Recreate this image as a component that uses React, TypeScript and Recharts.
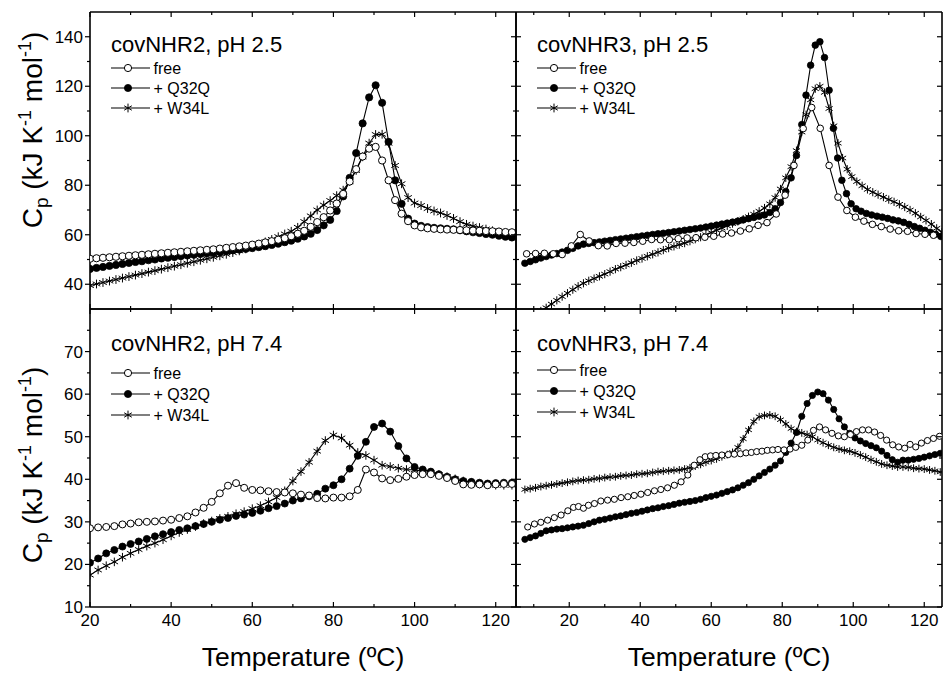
import React from 'react';
import { LineChart, Line, XAxis, YAxis, Legend } from 'recharts';

const W = 943;
const H = 675;
const FONT = '"Liberation Sans", Arial, Helvetica, sans-serif';

type Pt = [number, number];

// tick values
const leftTempTicks = [20, 30, 40, 50, 60, 70, 80, 90, 100, 110, 120];
const rightTempTicks = [10, 20, 30, 40, 50, 60, 70, 80, 90, 100, 110, 120];
const acidCpTicks = [40, 50, 60, 70, 80, 90, 100, 110, 120, 130, 140];
const neutralCpTicks = [10, 15, 20, 25, 30, 35, 40, 45, 50, 55, 60, 65, 70, 75];

const seriesNames = ['free', '+ Q32Q', '+ W34L'];

// covNHR2, pH 2.5  [temperature ºC, Cp]
const nhr2AcidFree: Pt[] = [
  [20, 50.3], [21.6, 50.5], [23.2, 50.7], [24.8, 50.9], [26.4, 51.1], [28, 51.3], [29.6, 51.5], [31.2, 51.7],
  [32.8, 51.9], [34.4, 52.1], [36, 52.3], [37.6, 52.5], [39.2, 52.7], [40.8, 52.9], [42.4, 53.1], [44, 53.3],
  [45.6, 53.5], [47.2, 53.7], [48.8, 53.9], [50.4, 54.1], [52, 54.4], [53.6, 54.7], [55.2, 55.0], [56.8, 55.3],
  [58.4, 55.6], [60, 56.0], [61.6, 56.4], [63.2, 56.9], [64.8, 57.4], [66.4, 58.0], [68, 58.6], [69.6, 59.4],
  [71.2, 60.4], [72.8, 61.6], [74.4, 63.2], [76, 65.1], [77.6, 67.1], [79.2, 69.8], [80.8, 72.6], [82.4, 76.5],
  [84, 81.5], [85.6, 86.5], [87.2, 91.6], [88.8, 94.8], [90.4, 95.5], [92, 90.0], [93.6, 82.0], [95.2, 74.0],
  [96.8, 68.5], [98.4, 65.5], [100, 63.8], [101.6, 63.0], [103.2, 62.6], [104.8, 62.4], [106.4, 62.2], [108, 62.1],
  [109.6, 62.0], [111.2, 61.9], [112.8, 61.8], [114.4, 61.7], [116, 61.6], [117.6, 61.5], [119.2, 61.4], [120.8, 61.3],
  [122.4, 61.1], [124, 61.0],
];
const nhr2AcidQ32Q: Pt[] = [
  [20, 46.2], [21.6, 46.6], [23.2, 47.0], [24.8, 47.4], [26.4, 47.8], [28, 48.2], [29.6, 48.6], [31.2, 49.0],
  [32.8, 49.3], [34.4, 49.7], [36, 50.0], [37.6, 50.4], [39.2, 50.7], [40.8, 51.0], [42.4, 51.3], [44, 51.6],
  [45.6, 51.9], [47.2, 52.2], [48.8, 52.5], [50.4, 52.8], [52, 53.1], [53.6, 53.4], [55.2, 53.7], [56.8, 54.0],
  [58.4, 54.3], [60, 54.6], [61.6, 55.0], [63.2, 55.4], [64.8, 55.9], [66.4, 56.4], [68, 57.0], [69.6, 57.6],
  [71.2, 58.4], [72.8, 59.3], [74.4, 60.4], [76, 61.9], [77.6, 63.8], [79.2, 66.0], [80.8, 69.6], [82.4, 75.5],
  [84, 83.0], [85.6, 93.0], [87.2, 105.0], [88.8, 115.5], [90.4, 120.4], [92, 113.3], [93.6, 97.5], [95.2, 82.0],
  [96.8, 72.5], [98.4, 66.5], [100, 64.5], [101.6, 63.6], [103.2, 63.1], [104.8, 62.8], [106.4, 62.6], [108, 62.4],
  [109.6, 62.2], [111.2, 61.8], [112.8, 61.4], [114.4, 61.0], [116, 60.7], [117.6, 60.3], [119.2, 60.0], [120.8, 59.6],
  [122.4, 59.2], [124, 58.9],
];
const nhr2AcidW34L: Pt[] = [
  [20, 39.5], [21.6, 40.1], [23.2, 40.7], [24.8, 41.3], [26.4, 41.9], [28, 42.5], [29.6, 43.1], [31.2, 43.7],
  [32.8, 44.3], [34.4, 44.9], [36, 45.5], [37.6, 46.1], [39.2, 46.7], [40.8, 47.3], [42.4, 47.9], [44, 48.5],
  [45.6, 49.1], [47.2, 49.7], [48.8, 50.3], [50.4, 50.9], [52, 51.5], [53.6, 52.1], [55.2, 52.8], [56.8, 53.5],
  [58.4, 54.3], [60, 55.2], [61.6, 56.1], [63.2, 57.1], [64.8, 58.1], [66.4, 59.2], [68, 60.3], [69.6, 61.4],
  [71.2, 63.0], [72.8, 65.3], [74.4, 67.6], [76, 70.0], [77.6, 72.0], [79.2, 73.8], [80.8, 75.8], [82.4, 78.0],
  [84, 81.5], [85.6, 86.0], [87.2, 91.5], [88.8, 97.0], [90.4, 100.5], [92, 100.6], [93.6, 97.0], [95.2, 88.0],
  [96.8, 80.6], [98.4, 75.0], [100, 72.8], [101.6, 71.8], [103.2, 70.6], [104.8, 69.6], [106.4, 68.8], [108, 67.8],
  [109.6, 66.6], [111.2, 65.3], [112.8, 64.2], [114.4, 63.5], [116, 62.9], [117.6, 62.3], [119.2, 61.6], [120.8, 60.8],
  [122.4, 60.0], [124, 59.2],
];

// covNHR3, pH 2.5
const nhr3AcidFree: Pt[] = [
  [8, 52.3], [10.5, 52.4], [13, 52.5], [15.5, 52.3], [18, 52.0], [20.6, 55.5], [23.1, 60.1], [25.6, 57.5],
  [28.2, 55.6], [30.7, 55.5], [33.2, 56.5], [35.7, 56.6], [38.2, 56.9], [40.7, 57.4], [43.2, 58.1], [45.7, 58.0],
  [48.2, 58.0], [50.7, 58.4], [53.2, 58.7], [55.7, 58.8], [58.2, 59.0], [60.7, 59.4], [63.2, 60.3], [65.7, 60.7],
  [68.2, 61.5], [70.7, 62.4], [73.2, 63.8], [75.7, 64.9], [78.3, 68.4], [80.8, 76.0], [83.3, 88.0], [85.9, 102.9],
  [88.3, 111.4], [90.7, 103.0], [93.2, 88.0], [95.7, 75.2], [98.2, 69.8], [100.6, 67.1], [103, 65.5], [105.4, 64.2],
  [107.9, 63.3], [110.4, 62.3], [112.8, 61.6], [115.3, 61.4], [117.7, 60.5], [120.2, 60.2], [122.6, 59.8],
];
const nhr3AcidQ32Q: Pt[] = [
  [7.5, 48.5], [9, 49.2], [10.5, 49.9], [12, 50.6], [13.5, 51.2], [15, 51.8], [16.5, 52.4], [18, 53.0],
  [19.5, 53.7], [21, 54.5], [22.5, 55.5], [24, 56.2], [25.5, 56.5], [27, 56.8], [28.5, 57.1], [30, 57.4],
  [31.5, 57.7], [33, 58.0], [34.5, 58.3], [36, 58.6], [37.5, 58.9], [39, 59.2], [40.5, 59.5], [42, 59.8],
  [43.5, 60.1], [45, 60.4], [46.5, 60.6], [48, 60.9], [49.5, 61.2], [51, 61.5], [52.5, 61.8], [54, 62.1],
  [55.5, 62.4], [57, 62.7], [58.5, 63.1], [60, 63.5], [61.5, 63.9], [63, 64.3], [64.5, 64.7], [66, 65.1],
  [67.5, 65.5], [69, 66.0], [70.5, 66.5], [72, 67.0], [73.5, 67.5], [75, 68.0], [76.5, 69.0], [78, 70.5],
  [79.5, 73.0], [81, 77.5], [82.5, 83.0], [84, 92.0], [85.5, 104.5], [86.7, 116.4], [88, 128.5], [89.3, 136.6],
  [90.6, 138.0], [91.9, 131.6], [93.2, 118.4], [94.4, 103.0], [95.6, 91.0], [96.8, 82.0], [98.1, 76.6], [99.4, 72.5],
  [100.8, 70.5], [102.2, 69.5], [103.7, 68.6], [105.2, 68.0], [106.7, 67.5], [108.2, 67.1], [109.7, 66.6], [111.2, 66.0],
  [112.7, 65.6], [114.2, 65.0], [115.7, 64.2], [117.2, 63.3], [118.7, 62.6], [120.2, 61.8], [121.7, 61.0], [123.2, 60.2],
  [124.7, 59.3],
];
const nhr3AcidW34L: Pt[] = [
  [12, 29.2], [13.5, 30.5], [15, 32.0], [16.5, 33.5], [18, 35.0], [19.5, 36.4], [21, 37.8], [22.5, 39.2],
  [24, 40.4], [25.5, 41.4], [27, 42.3], [28.5, 43.2], [30, 44.1], [31.5, 45.1], [33, 46.1], [34.5, 46.9],
  [36, 47.8], [37.5, 48.7], [39, 49.6], [40.5, 50.4], [42, 51.3], [43.5, 52.1], [45, 52.9], [46.5, 53.8],
  [48, 54.6], [49.5, 55.3], [51, 56.0], [52.5, 56.6], [54, 57.4], [55.5, 58.2], [57, 59.0], [58.5, 60.0],
  [60, 60.9], [61.5, 61.8], [63, 62.7], [64.5, 63.6], [66, 64.5], [67.5, 65.4], [69, 66.3], [70.5, 67.3],
  [72, 68.3], [73.5, 69.5], [75, 70.8], [76.5, 72.5], [78, 75.0], [79.5, 78.5], [81, 83.0], [82.5, 87.5],
  [84, 94.0], [85.5, 101.5], [86.7, 108.5], [88, 114.5], [89.3, 119.0], [90.6, 120.0], [91.9, 117.5], [93.2, 111.0],
  [94.5, 104.0], [95.7, 97.0], [97, 91.0], [98.3, 86.5], [99.6, 83.5], [101, 81.5], [102.5, 79.8], [104, 78.3],
  [105.5, 77.2], [107, 76.2], [108.5, 75.2], [110, 74.2], [111.5, 73.3], [113, 72.3], [114.5, 71.2], [116, 70.0],
  [117.5, 68.7], [119, 67.2], [120.5, 65.8], [122, 64.3], [123.5, 62.6], [125, 61.0],
];

// covNHR2, pH 7.4
const nhr2NeutralFree: Pt[] = [
  [20, 28.5], [22, 28.7], [24, 28.8], [26, 29.0], [28, 29.4], [30, 29.6], [32, 29.9], [34, 30.0],
  [36, 30.1], [38, 30.3], [40, 30.5], [42, 30.9], [44, 31.3], [46, 32.2], [48, 33.3], [50, 34.7],
  [52, 36.7], [54, 38.5], [56, 39.1], [58, 38.0], [60, 37.5], [62, 37.4], [64, 37.2], [66, 37.0],
  [68, 36.9], [70, 36.7], [72, 36.4], [74, 36.2], [76, 35.6], [78, 35.5], [80, 35.7], [82, 35.7],
  [84, 36.0], [86, 37.5], [88, 42.3], [90, 41.6], [92, 40.2], [94, 39.8], [96, 40.1], [98, 40.6],
  [100, 41.0], [102, 41.2], [104, 41.2], [106, 40.8], [108, 40.3], [110, 39.6], [112, 38.8], [114, 38.7],
  [116, 38.8], [118, 38.6], [120, 38.8], [122, 38.9], [124, 38.9],
];
const nhr2NeutralQ32Q: Pt[] = [
  [20, 20.4], [22, 21.4], [24, 22.6], [26, 23.4], [28, 24.2], [30, 24.8], [32, 25.4], [34, 26.0],
  [36, 26.6], [38, 27.1], [40, 27.6], [42, 28.1], [44, 28.5], [46, 29.0], [48, 29.5], [50, 30.0],
  [52, 30.5], [54, 30.9], [56, 31.4], [58, 31.7], [60, 32.1], [62, 32.6], [64, 33.2], [66, 33.7],
  [68, 34.3], [70, 35.0], [72, 35.5], [74, 36.0], [76, 36.6], [78, 37.8], [80, 38.6], [82, 40.0],
  [84, 42.5], [86, 45.5], [88, 48.8], [90, 52.3], [92, 53.1], [94, 51.2], [96, 47.8], [98, 44.9],
  [100, 42.9], [102, 42.3], [104, 41.8], [106, 41.2], [108, 40.6], [110, 40.0], [112, 39.6], [114, 39.4],
  [116, 39.2], [118, 39.0], [120, 39.1], [122, 39.2], [124, 39.2],
];
const nhr2NeutralW34L: Pt[] = [
  [20, 17.5], [22, 18.7], [24, 19.7], [26, 20.6], [28, 21.7], [30, 22.6], [32, 23.5], [34, 24.3],
  [36, 25.0], [38, 25.8], [40, 26.7], [42, 27.5], [44, 28.2], [46, 28.9], [48, 29.6], [50, 30.2],
  [52, 30.8], [54, 31.3], [56, 31.9], [58, 32.4], [60, 33.1], [62, 33.8], [64, 34.7], [66, 35.7],
  [68, 37.3], [70, 39.6], [72, 41.8], [74, 44.0], [76, 46.6], [78, 49.1], [80, 50.4], [82, 49.7],
  [84, 48.0], [86, 46.3], [88, 45.6], [90, 44.5], [92, 43.3], [94, 43.0], [96, 42.6], [98, 42.3],
  [100, 42.2], [102, 41.9], [104, 41.5], [106, 41.1], [108, 40.6], [110, 40.1], [112, 39.6], [114, 39.2],
  [116, 38.9], [118, 38.8], [120, 38.6], [122, 38.6], [124, 38.6],
];

// covNHR3, pH 7.4
const nhr3NeutralFree: Pt[] = [
  [8.3, 28.8], [10.2, 29.5], [12, 29.9], [13.9, 30.4], [15.8, 31.0], [17.7, 31.6], [19.6, 32.6], [21.2, 33.4],
  [22.6, 33.6], [24, 33.2], [25.4, 33.9], [27.1, 34.3], [28.9, 34.9], [30.8, 35.1], [32.7, 35.3], [34.6, 35.7],
  [36.5, 35.9], [38.3, 36.2], [40.2, 36.5], [42.1, 36.9], [44, 37.3], [45.8, 37.6], [47.7, 38.0], [49.6, 38.6],
  [51.5, 39.4], [53.4, 41.0], [55.2, 43.3], [56.8, 44.6], [58.3, 45.3], [59.8, 45.5], [61.3, 45.6], [63, 45.7],
  [64.8, 45.8], [66.5, 45.9], [68.2, 46.0], [69.8, 46.2], [71.3, 46.3], [72.8, 46.5], [74.3, 46.6], [75.8, 46.8],
  [77.3, 46.9], [78.8, 47.0], [80.5, 46.9], [82.2, 47.1], [83.8, 47.5], [85.5, 48.0], [87.2, 49.2], [88.8, 51.5],
  [90.5, 52.3], [92.2, 51.6], [94, 50.8], [95.8, 50.2], [97.5, 50.0], [99.2, 50.5], [100.9, 51.2], [102.6, 51.6],
  [104.3, 51.6], [106, 51.1], [107.7, 50.3], [109.4, 49.2], [111.1, 48.1], [112.8, 47.6], [114.5, 47.3], [116, 48.2],
  [117.6, 47.6], [119.2, 48.5], [120.9, 49.1], [122.6, 49.6], [124.3, 50.1],
];
const nhr3NeutralQ32Q: Pt[] = [
  [7.5, 25.9], [9, 26.3], [10.5, 26.7], [12, 27.3], [13.5, 27.9], [15, 28.1], [16.5, 28.3], [18, 28.4],
  [19.5, 28.6], [21, 28.8], [22.5, 29.0], [24, 29.2], [25.5, 29.6], [27, 30.0], [28.5, 30.4], [30, 30.6],
  [31.5, 30.9], [33, 31.2], [34.5, 31.4], [36, 31.7], [37.5, 32.0], [39, 32.2], [40.5, 32.5], [42, 32.8],
  [43.5, 33.1], [45, 33.3], [46.5, 33.6], [48, 33.8], [49.5, 34.1], [51, 34.4], [52.5, 34.6], [54, 34.8],
  [55.5, 35.0], [57, 35.3], [58.5, 35.7], [60, 36.0], [61.5, 36.3], [63, 36.7], [64.5, 37.1], [66, 37.5],
  [67.5, 38.0], [69, 38.6], [70.5, 39.2], [72, 40.0], [73.5, 40.8], [75, 41.6], [76.5, 42.4], [78, 43.3],
  [79.5, 44.3], [81, 46.3], [82.5, 48.5], [84, 51.0], [85.5, 54.8], [87, 57.8], [88.5, 59.7], [90, 60.5],
  [91.5, 60.1], [93, 58.6], [94.5, 56.4], [96, 54.2], [97.5, 52.3], [99, 50.8], [100.5, 49.7], [102, 49.0],
  [103.5, 48.4], [105, 47.9], [106.5, 47.4], [108, 46.6], [109.5, 45.6], [111, 44.6], [112.5, 44.0], [114, 44.5],
  [115.5, 44.5], [117, 44.7], [118.5, 44.9], [120, 45.2], [121.5, 45.5], [123, 45.8], [124.5, 46.1],
];
const nhr3NeutralW34L: Pt[] = [
  [7.5, 37.6], [9, 37.8], [10.5, 38.0], [12, 38.3], [13.5, 38.5], [15, 38.7], [16.5, 38.9], [18, 39.1],
  [19.5, 39.3], [21, 39.5], [22.5, 39.7], [24, 39.8], [25.5, 39.9], [27, 40.1], [28.5, 40.2], [30, 40.4],
  [31.5, 40.5], [33, 40.6], [34.5, 40.8], [36, 40.9], [37.5, 41.0], [39, 41.2], [40.5, 41.3], [42, 41.4],
  [43.5, 41.6], [45, 41.8], [46.5, 41.9], [48, 42.0], [49.5, 42.1], [51, 42.2], [52.5, 42.4], [54, 42.7],
  [55.5, 43.1], [57, 43.5], [58.5, 44.0], [60, 44.4], [61.5, 44.8], [63, 45.3], [64.5, 45.8], [66, 46.3],
  [67.5, 47.5], [69, 49.5], [70.5, 51.6], [72, 53.6], [73.5, 54.7], [75, 55.0], [76.5, 55.1], [78, 54.8],
  [79.5, 54.0], [81, 53.0], [82.5, 51.9], [84, 51.2], [85.5, 50.9], [87, 50.5], [88.5, 50.0], [90, 49.2],
  [91.5, 48.6], [93, 48.0], [94.5, 47.5], [96, 47.1], [97.5, 46.8], [99, 46.6], [100.5, 46.2], [102, 45.7],
  [103.5, 45.2], [105, 44.6], [106.5, 44.1], [108, 43.6], [109.5, 43.3], [111, 43.1], [112.5, 42.9], [114, 42.9],
  [115.5, 42.8], [117, 42.6], [118.5, 42.5], [120, 42.4], [121.5, 42.2], [123, 42.0], [124.5, 41.7],
];

type Marker = 'open' | 'filled' | 'star';

function drawMarker(kind: Marker, cx: number, cy: number, r: number, key?: string) {
  if (kind === 'open') {
    return <circle key={key} cx={cx} cy={cy} r={r} fill="#fff" stroke="#000" strokeWidth={1} />;
  }
  if (kind === 'filled') {
    return <circle key={key} cx={cx} cy={cy} r={r} fill="#000" stroke="#000" strokeWidth={0.8} />;
  }
  const s = r + 0.8;
  const dx = s * 0.866;
  const dy = s * 0.5;
  return (
    <g key={key} stroke="#000" strokeWidth={1}>
      <line x1={cx} y1={cy - s} x2={cx} y2={cy + s} />
      <line x1={cx - dx} y1={cy - dy} x2={cx + dx} y2={cy + dy} />
      <line x1={cx - dx} y1={cy + dy} x2={cx + dx} y2={cy - dy} />
    </g>
  );
}

const makeDot = (kind: Marker, r: number) => (p: any) => {
  const key = `${kind}-${p.index}`;
  if (p.cx == null || p.cy == null) return <g key={key} />;
  return drawMarker(kind, p.cx, p.cy, r, key);
};

type Side = 'bottom' | 'top' | 'left' | 'right';

const makeTick = (side: Side, labelled: boolean, majorStep: number, outward = false) => (props: any) => {
  const { x, y, payload, index } = props;
  const v = payload.value as number;
  const major = Math.abs(v % majorStep) < 1e-6;
  const len = major ? 5 : 3;
  let x2 = x;
  let y2 = y;
  if (side === 'bottom') y2 = y - len;
  if (side === 'top') y2 = y + len;
  if (side === 'left') x2 = outward ? x - len : x + len;
  if (side === 'right') x2 = x - len;
  return (
    <g key={`${side}-${index}`}>
      <line x1={x} y1={y} x2={x2} y2={y2} stroke="#000" strokeWidth={1.2} />
      {labelled && major && side === 'bottom' && (
        <text x={x} y={y + 19} textAnchor="middle" fontSize={17} fontFamily={FONT} fill="#000">{v}</text>
      )}
      {labelled && major && side === 'left' && (
        <text x={x - 7} y={y + 6} textAnchor="end" fontSize={17} fontFamily={FONT} fill="#000">{v}</text>
      )}
    </g>
  );
};

interface PanelProps {
  plot: { left: number; right: number; top: number; bottom: number };
  xDomain: [number, number];
  xTicks: number[];
  yDomain: [number, number];
  yTicks: number[];
  yMajor: number;
  xLabels: boolean;
  yLabels: boolean;
  title: string;
  free: Pt[];
  q32q: Pt[];
  w34l: Pt[];
  r: number;
  legendTitleY: number;
  legendRows: number[];
}

const markers: Marker[] = ['open', 'filled', 'star'];

function PanelLegend({ title, titleY, rows }: { title: string; titleY: number; rows: number[] }) {
  return (
    <svg width={260} height={120} style={{ overflow: 'visible', display: 'block' }} fontFamily={FONT}>
      <text x={3} y={titleY} fontSize={22} fill="#000">{title}</text>
      {seriesNames.map((name, i) => (
        <g key={name}>
          <line x1={3} x2={42} y1={rows[i]} y2={rows[i]} stroke="#000" strokeWidth={1.1} />
          {drawMarker(markers[i], 20, rows[i], 3.6)}
          <text x={45.5} y={rows[i] + 5.7} fontSize={16} fill="#000">{name}</text>
        </g>
      ))}
    </svg>
  );
}

const toRows = (pts: Pt[]) => pts.map(([t, v]) => ({ t, v }));

// axes need a non-zero size to be drawn, so each one takes 1px of the margin
const AX = 1;

function Panel(p: PanelProps) {
  const axisLine = { stroke: '#000', strokeWidth: 1.6 };
  const margin = {
    left: p.plot.left - AX,
    right: W - p.plot.right - AX,
    top: p.plot.top - AX,
    bottom: H - p.plot.bottom - AX,
  };
  const common = { type: 'number' as const, allowDataOverflow: true, interval: 0 as const, tickSize: 0, tickMargin: 0, tickLine: false, axisLine };
  return (
    <div style={{ position: 'absolute', left: 0, top: 0 }}>
      <LineChart width={W} height={H} margin={margin}>
        <XAxis {...common} xAxisId="b" orientation="bottom" dataKey="t" domain={p.xDomain} ticks={p.xTicks} height={AX}
          tick={makeTick('bottom', p.xLabels, 20)} />
        <XAxis {...common} xAxisId="t" orientation="top" dataKey="t" domain={p.xDomain} ticks={p.xTicks} height={AX}
          tick={makeTick('top', false, 20)} />
        <YAxis {...common} yAxisId="l" orientation="left" domain={p.yDomain} ticks={p.yTicks} width={AX}
          tick={makeTick('left', p.yLabels, p.yMajor, p.yLabels)} />
        <YAxis {...common} yAxisId="r" orientation="right" domain={p.yDomain} ticks={p.yTicks} width={AX}
          tick={makeTick('right', false, p.yMajor)} />
        {[p.w34l, p.q32q, p.free].map((pts, i) => {
          const kind = markers[2 - i];
          return (
            <Line key={kind} xAxisId="b" yAxisId="l" data={toRows(pts)} dataKey="v" type="linear"
              stroke="#000" strokeWidth={1.1} dot={makeDot(kind, p.r)} activeDot={false}
              isAnimationActive={false} />
          );
        })}
        <Legend layout="vertical" align="center" verticalAlign="middle"
          wrapperStyle={{ left: p.plot.left + 18, top: p.plot.top, width: 260, height: 120 }}
          content={() => <PanelLegend title={p.title} titleY={p.legendTitleY} rows={p.legendRows} />} />
      </LineChart>
    </div>
  );
}

export default function App() {
  return (
    <div style={{ position: 'absolute', left: 0, top: 0, width: W, height: H, background: '#fff' }}>
      <Panel plot={{ left: 90, right: 516, top: 12, bottom: 309 }} xDomain={[20, 125]} xTicks={leftTempTicks}
        yDomain={[30, 150]} yTicks={acidCpTicks} yMajor={20} xLabels={false} yLabels
        title="covNHR2, pH 2.5" free={nhr2AcidFree} q32q={nhr2AcidQ32Q} w34l={nhr2AcidW34L} r={3.6}
        legendTitleY={40} legendRows={[56, 76, 96]} />
      <Panel plot={{ left: 516, right: 942, top: 12, bottom: 309 }} xDomain={[5, 125]} xTicks={rightTempTicks}
        yDomain={[30, 150]} yTicks={acidCpTicks} yMajor={20} xLabels={false} yLabels={false}
        title="covNHR3, pH 2.5" free={nhr3AcidFree} q32q={nhr3AcidQ32Q} w34l={nhr3AcidW34L} r={3.3}
        legendTitleY={40} legendRows={[56, 76, 96]} />
      <Panel plot={{ left: 90, right: 516, top: 309, bottom: 607 }} xDomain={[20, 125]} xTicks={leftTempTicks}
        yDomain={[10, 80]} yTicks={neutralCpTicks} yMajor={10} xLabels yLabels
        title="covNHR2, pH 7.4" free={nhr2NeutralFree} q32q={nhr2NeutralQ32Q} w34l={nhr2NeutralW34L} r={3.5}
        legendTitleY={42} legendRows={[64, 85, 106]} />
      <Panel plot={{ left: 516, right: 942, top: 309, bottom: 607 }} xDomain={[5, 125]} xTicks={rightTempTicks}
        yDomain={[10, 80]} yTicks={neutralCpTicks} yMajor={10} xLabels yLabels={false}
        title="covNHR3, pH 7.4" free={nhr3NeutralFree} q32q={nhr3NeutralQ32Q} w34l={nhr3NeutralW34L} r={3.1}
        legendTitleY={42} legendRows={[61, 82, 103]} />

      {/* axis titles */}
      <svg width={W} height={H} style={{ position: 'absolute', left: 0, top: 0, pointerEvents: 'none' }} fontFamily={FONT}>
        {[130, 465].map((cy) => (
          <text key={cy} transform={`translate(42,${cy}) rotate(-90)`} textAnchor="middle" fontSize={28} fill="#000">
            C<tspan fontSize={19} dy={6}>p</tspan>
            <tspan dy={-6}> (kJ K</tspan>
            <tspan fontSize={18} dy={-11}>-1</tspan>
            <tspan dy={11}> mol</tspan>
            <tspan fontSize={18} dy={-11}>-1</tspan>
            <tspan dy={11}>)</tspan>
          </text>
        ))}
        <text x={303} y={666} textAnchor="middle" fontSize={26.5} fill="#000">Temperature (ºC)</text>
        <text x={729} y={666} textAnchor="middle" fontSize={26.5} fill="#000">Temperature (ºC)</text>
      </svg>
    </div>
  );
}
